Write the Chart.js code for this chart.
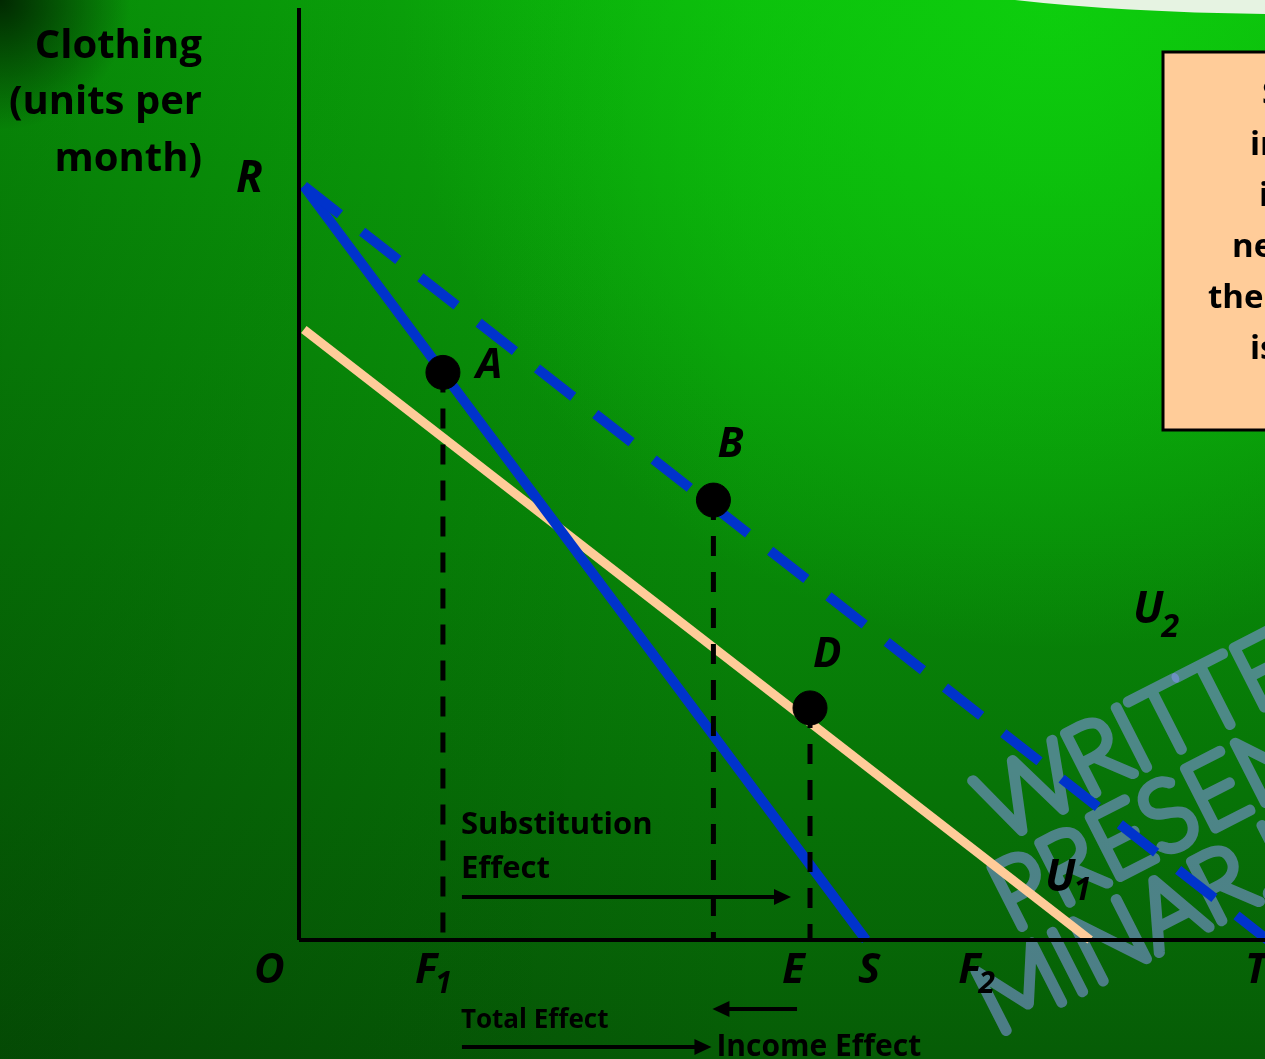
<!DOCTYPE html>
<html>
<head>
<meta charset="utf-8">
<script src="https://cdn.jsdelivr.net/npm/chart.js@4.4.1/dist/chart.umd.min.js"></script>
<style>
  html, body { margin: 0; padding: 0; overflow: hidden; background: #087808; }
  canvas { display: block; }
</style>
</head>
<body>
<canvas id="myChart" width="1265" height="1059"></canvas>
<script>
// Axis ranges (food on x, clothing on y, arbitrary units)
const xMax = 100;
const yMax = 100;

// Budget lines and the indifference line: start / end points
const lineNames = ['RS', 'RT', 'U1'];
const lineStartX = [0.5, 0.5, 0.5];
const lineStartY = [80.9, 80.9, 65.5];
const lineEndX = [58.7, 100.3, 81.9];
const lineEndY = [0, 0, 0];

// Optimal bundles
const pointNames = ['A', 'B', 'D'];
const pointX = [14.9, 42.9, 52.9];
const pointY = [60.9, 47.2, 24.9];

// Labels under the horizontal axis
const tickNames = ['O', 'F', 'E', 'S', 'F', 'T'];
const tickSubs = ['', '1', '', '', '2', ''];
const tickValues = [0, 14.9, 52.9, 58.7, 70.0, 100.3];

// Text of the right hand box (only its left edge is on the slide)
const boxLines = ['S', 'in', 'i', 'ne', 'the', 'is'];

const FONT = "'Open Sans', 'DejaVu Sans', sans-serif";

function seg(i) {
    return [{ x: lineStartX[i], y: lineStartY[i] }, { x: lineEndX[i], y: lineEndY[i] }];
}

function dropLine(i) {
    return [{ x: pointX[i], y: pointY[i] }, { x: pointX[i], y: 0 }];
}

// Green slide background
const bgPlugin = {
    id: 'slideBackground',
    beforeDraw(chart) {
        const ctx = chart.ctx, w = chart.width, h = chart.height;
        ctx.save();
        let g = ctx.createLinearGradient(0, 0, 0, h);
        g.addColorStop(0, '#0bb40b');
        g.addColorStop(0.5, '#088a08');
        g.addColorStop(1, '#065c06');
        ctx.fillStyle = g;
        ctx.fillRect(0, 0, w, h);

        g = ctx.createLinearGradient(0, 0, w, 0);
        g.addColorStop(0, 'rgba(0,25,0,0.28)');
        g.addColorStop(0.6, 'rgba(0,25,0,0)');
        ctx.fillStyle = g;
        ctx.fillRect(0, 0, w, h);

        g = ctx.createRadialGradient(1050, 0, 0, 1050, 0, 650);
        g.addColorStop(0, 'rgba(14,215,14,0.75)');
        g.addColorStop(1, 'rgba(14,215,14,0)');
        ctx.fillStyle = g;
        ctx.fillRect(0, 0, w, h);

        g = ctx.createRadialGradient(0, 0, 0, 0, 0, 130);
        g.addColorStop(0, 'rgba(0,30,0,0.9)');
        g.addColorStop(1, 'rgba(0,30,0,0)');
        ctx.fillStyle = g;
        ctx.fillRect(0, 0, w, h);

        // pale swoosh in the top right corner
        ctx.fillStyle = '#e6f3e2';
        ctx.beginPath();
        ctx.moveTo(1015, 0);
        ctx.quadraticCurveTo(1120, 12, 1265, 14);
        ctx.lineTo(1265, 0);
        ctx.closePath();
        ctx.fill();
        ctx.restore();
    }
};

// Handwritten watermark, drawn under the lines
const watermarkPlugin = {
    id: 'watermark',
    beforeDatasetsDraw(chart) {
        const ctx = chart.ctx;
        ctx.save();
        ctx.strokeStyle = 'rgba(135,150,240,0.55)';
        ctx.lineWidth = 10;
        ctx.lineJoin = 'round';
        ctx.lineCap = 'round';
        ctx.font = "100 96px Lato, sans-serif";
        const wm = [['WRITTEN BY', 1000, 842], ['PRESENTED', 1012, 932], ['MINAR.M', 996, 1036]];
        wm.forEach(([t, x, y]) => {
            ctx.save();
            ctx.translate(x, y);
            ctx.rotate(-27 * Math.PI / 180);
            ctx.strokeText(t, 0, 0);
            ctx.restore();
        });
        ctx.restore();
    }
};

function text(ctx, t, x, y, font, align) {
    ctx.font = font;
    ctx.textAlign = align || 'left';
    ctx.fillText(t, x, y);
}

function subLabel(ctx, main, sub, x, y, size, subSize, dy) {
    ctx.font = 'italic bold ' + size + 'px ' + FONT;
    ctx.textAlign = 'left';
    ctx.fillText(main, x, y);
    const w = ctx.measureText(main).width;
    if (sub) {
        ctx.font = 'italic bold ' + subSize + 'px ' + FONT;
        ctx.fillText(sub, x + w - 2, y + dy);
    }
}

function arrow(ctx, x1, x2, y) {
    const dir = x2 > x1 ? 1 : -1;
    ctx.beginPath();
    ctx.moveTo(x1, y);
    ctx.lineTo(x2 - dir * 12, y);
    ctx.lineWidth = 4;
    ctx.stroke();
    ctx.beginPath();
    ctx.moveTo(x2, y);
    ctx.lineTo(x2 - dir * 17, y - 8);
    ctx.lineTo(x2 - dir * 17, y + 8);
    ctx.closePath();
    ctx.fill();
}

// All the text, arrows and the box
const labelPlugin = {
    id: 'labels',
    afterDraw(chart) {
        const ctx = chart.ctx;
        const xs = chart.scales.x, ys = chart.scales.y;
        ctx.save();
        ctx.fillStyle = '#000';
        ctx.strokeStyle = '#000';
        ctx.textBaseline = 'alphabetic';

        // y axis title
        const tf = 'bold 40px ' + FONT;
        text(ctx, 'Clothing', 202, 58, tf, 'right');
        text(ctx, '(units per', 202, 114, tf, 'right');
        text(ctx, 'month)', 202, 171, tf, 'right');

        // R on the axis
        subLabel(ctx, 'R', '', 236, 192, 44);

        // point labels
        const pdx = [33, 4, 3], pdy = [6, -43, -41];
        pointNames.forEach((n, i) => {
            subLabel(ctx, n, '', xs.getPixelForValue(pointX[i]) + pdx[i],
                ys.getPixelForValue(pointY[i]) + pdy[i], 42);
        });

        // curve labels
        subLabel(ctx, 'U', '2', 1133, 623, 44, 32, 14);
        subLabel(ctx, 'U', '1', 1045, 891, 44, 32, 9);

        // labels under the axis
        const tdx = [-45, -28, -28, -8, -17, -23];
        tickNames.forEach((n, i) => {
            subLabel(ctx, n, tickSubs[i], xs.getPixelForValue(tickValues[i]) + tdx[i], 983, 42, 30, 10);
        });

        // effects
        const xF1 = xs.getPixelForValue(pointX[0]);
        const xB = xs.getPixelForValue(pointX[1]);
        const xE = xs.getPixelForValue(pointX[2]);
        text(ctx, 'Substitution', xF1 + 18, 834, 'bold 31px ' + FONT);
        text(ctx, 'Effect', xF1 + 18, 878, 'bold 31px ' + FONT);
        arrow(ctx, xF1 + 19, xE - 19, 897);
        text(ctx, 'Total Effect', xF1 + 18, 1028, 'bold 26px ' + FONT);
        arrow(ctx, xF1 + 19, xB - 2, 1047);
        arrow(ctx, xE - 13, xB - 1, 1009);
        text(ctx, 'Income Effect', xB + 3, 1056, 'bold 30px ' + FONT);

        // box on the right
        ctx.fillStyle = '#ffcc99';
        ctx.fillRect(1163, 52, 120, 378);
        ctx.lineWidth = 3;
        ctx.strokeRect(1163, 52, 120, 378);
        ctx.fillStyle = '#000';
        const bx = [1262, 1250, 1259, 1232, 1208, 1250];
        boxLines.forEach((t, i) => {
            text(ctx, t, bx[i], 104 + i * 51, 'bold 33px ' + FONT);
        });
        ctx.restore();
    }
};

const ctx = document.getElementById('myChart').getContext('2d');
const myChart = new Chart(ctx, {
    type: 'scatter',
    data: {
        datasets: [
            {
                label: 'bundles',
                data: pointNames.map((n, i) => ({ x: pointX[i], y: pointY[i] })),
                backgroundColor: '#000',
                borderColor: '#000',
                pointRadius: 17,
                showLine: false,
                clip: false
            },
            {
                label: 'y axis',
                data: [{ x: 0, y: 0 }, { x: 0, y: yMax }],
                borderColor: '#000', borderWidth: 4, showLine: true, pointRadius: 0, clip: false
            },
            {
                label: 'x axis',
                data: [{ x: 0, y: 0 }, { x: xMax, y: 0 }],
                borderColor: '#000', borderWidth: 4, showLine: true, pointRadius: 0, clip: false
            },
            ...pointNames.map((n, i) => ({
                label: 'drop ' + n,
                data: dropLine(i),
                borderColor: '#000', borderWidth: 5, borderDash: [20, 16],
                showLine: true, pointRadius: 0, clip: false
            })),
            {
                label: lineNames[1],
                data: seg(1),
                borderColor: '#0033cc', borderWidth: 10, borderDash: [46, 28],
                showLine: true, pointRadius: 0, clip: false
            },
            {
                label: lineNames[0],
                data: seg(0),
                borderColor: '#0033cc', borderWidth: 10,
                showLine: true, pointRadius: 0, clip: false
            },
            {
                label: lineNames[2],
                data: seg(2),
                borderColor: '#ffcc99', borderWidth: 9,
                showLine: true, pointRadius: 0, clip: false
            }
        ]
    },
    options: {
        responsive: false,
        animation: false,
        layout: { autoPadding: false, padding: { left: 299, right: 0, top: 8, bottom: 119 } },
        plugins: { legend: { display: false }, tooltip: { enabled: false } },
        scales: {
            x: { type: 'linear', min: 0, max: xMax, display: false },
            y: { type: 'linear', min: 0, max: yMax, display: false }
        }
    },
    plugins: [bgPlugin, watermarkPlugin, labelPlugin]
});
</script>
</body>
</html>
